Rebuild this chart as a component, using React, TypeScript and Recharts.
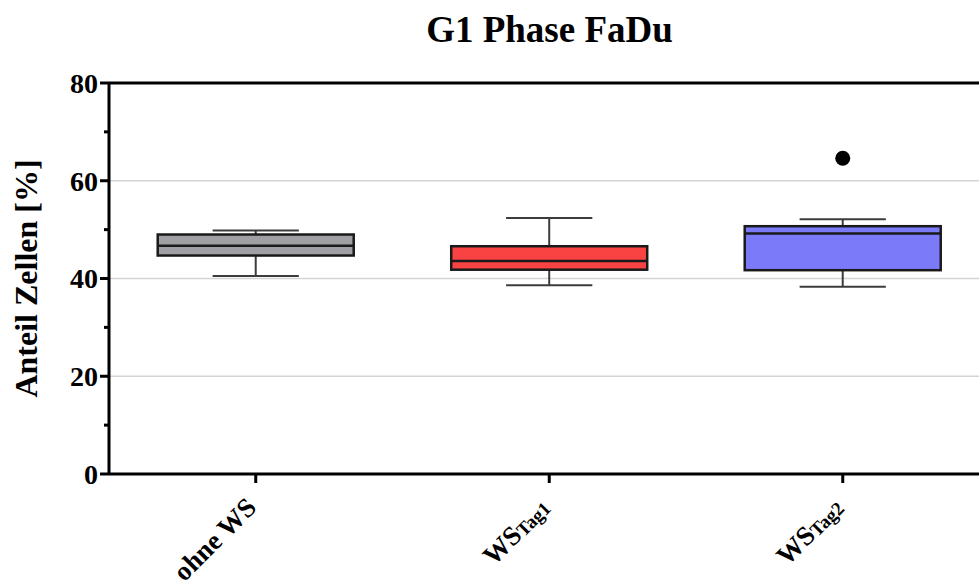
import React from 'react';
import { ComposedChart, Bar, Scatter, XAxis, YAxis, CartesianGrid, ReferenceLine } from 'recharts';

const categories = ['ohne WS', 'WSTag1', 'WSTag2'];
const labelMain = ['ohne WS', 'WS', 'WS'];
const labelSub = ['', 'Tag1', 'Tag2'];
const whiskerLow = [40.5, 38.6, 38.3];
const q1Values = [44.7, 41.8, 41.7];
const medianValues = [46.7, 43.6, 49.2];
const q3Values = [49.0, 46.6, 50.7];
const whiskerHigh = [49.8, 52.4, 52.1];
const outlierValues: (number | null)[] = [null, null, 64.6];
const yTicks = [0, 10, 20, 30, 40, 50, 60, 70, 80];
const gridValues = [20, 40, 60];
const boxColors = ['#a0a0a4', '#f94343', '#7b7bfa'];

const FONT = '"Liberation Serif", "Times New Roman", serif';

const data = categories.map((name, i) => ({
  name,
  range: [whiskerLow[i], whiskerHigh[i]],
  low: whiskerLow[i],
  q1: q1Values[i],
  median: medianValues[i],
  q3: q3Values[i],
  high: whiskerHigh[i],
  outlier: outlierValues[i],
  fill: boxColors[i],
}));

const BoxShape = (props: any) => {
  const { x, y, width, height, payload } = props;
  const { low, high, q1, median, q3, fill } = payload;
  const py = (v: number) => y + (height * (high - v)) / (high - low);
  const cx = x + width / 2;
  const cap = width * 0.44;
  const ws = '#3c3c3c';
  return (
    <g>
      <line x1={cx} x2={cx} y1={py(high)} y2={py(q3)} stroke={ws} strokeWidth={2} />
      <line x1={cx} x2={cx} y1={py(q1)} y2={py(low)} stroke={ws} strokeWidth={2} />
      <line x1={cx - cap / 2} x2={cx + cap / 2} y1={py(high)} y2={py(high)} stroke={ws} strokeWidth={2} />
      <line x1={cx - cap / 2} x2={cx + cap / 2} y1={py(low)} y2={py(low)} stroke={ws} strokeWidth={2} />
      <rect x={x} y={py(q3)} width={width} height={py(q1) - py(q3)} fill={fill} stroke="#1a1a1a" strokeWidth={2.5} />
      <line x1={x} x2={x + width} y1={py(median)} y2={py(median)} stroke="#1a1a1a" strokeWidth={2.5} />
    </g>
  );
};

const OutlierDot = (p: any) => {
  const v = p.payload ? p.payload.outlier : null;
  if (v === null || v === undefined || !Number.isFinite(p.cy)) return null;
  return <circle cx={p.cx} cy={p.cy} r={7.5} fill="#000" />;
};

const YTick = (props: any) => {
  const { x, y, payload } = props;
  const major = payload.value % 20 === 0;
  return (
    <g>
      <line x1={x - (major ? 9 : 5)} x2={x} y1={y} y2={y} stroke="#000" strokeWidth={3} />
      {major && (
        <text x={x - 11} y={y} dy="0.35em" textAnchor="end" fontFamily={FONT} fontWeight="bold" fontSize={28} fill="#000">
          {payload.value}
        </text>
      )}
    </g>
  );
};

const XTick = (props: any) => {
  const { x, y, payload } = props;
  const i = payload.index;
  const ax = x + 2;
  const ay = y + 26;
  return (
    <text x={ax} y={ay} transform={`rotate(-45, ${ax}, ${ay})`} textAnchor="end" fontFamily={FONT} fontWeight="bold" fontSize={27} fill="#000">
      {labelMain[i]}
      {labelSub[i] ? (
        <tspan fontSize={19} dy={1}>
          {labelSub[i]}
        </tspan>
      ) : null}
    </text>
  );
};

const YLabel = (props: any) => {
  const vb = props.viewBox || { x: 0, y: 83, width: 109, height: 391 };
  const lx = 37;
  const ly = vb.y + vb.height / 2;
  return (
    <text x={lx} y={ly} transform={`rotate(-90, ${lx}, ${ly})`} textAnchor="middle" fontFamily={FONT} fontWeight="bold" fontSize={32} fill="#000">
      Anteil Zellen [%]
    </text>
  );
};

export default function App() {
  return (
    <div style={{ position: 'fixed', left: 0, top: 0, width: 979, height: 583, overflow: 'hidden', background: '#fff' }}>
      <div
        style={{
          position: 'absolute',
          left: 109,
          width: 881,
          top: 11,
          textAlign: 'center',
          fontFamily: FONT,
          fontWeight: 'bold',
          fontSize: 37,
          lineHeight: 1,
          color: '#000',
        }}
      >
        G1 Phase FaDu
      </div>
      <ComposedChart
        width={1000}
        height={583}
        data={data}
        margin={{ top: 83, right: 10.5, bottom: 0, left: 0 }}
        barCategoryGap="16.6%"
      >
        <CartesianGrid vertical={false} horizontalValues={gridValues} stroke="#d4d4d4" strokeWidth={1.5} />
        <XAxis
          dataKey="name"
          type="category"
          allowDuplicatedCategory={false}
          height={109}
          tickSize={9}
          tickMargin={0}
          axisLine={{ stroke: '#000', strokeWidth: 3 }}
          tickLine={{ stroke: '#000', strokeWidth: 3 }}
          tick={<XTick />}
          interval={0}
        />
        <YAxis
          type="number"
          domain={[0, 80]}
          ticks={yTicks}
          interval={0}
          width={109}
          tickSize={0}
          tickMargin={0}
          axisLine={{ stroke: '#000', strokeWidth: 3 }}
          tickLine={false}
          tick={<YTick />}
          label={{ content: <YLabel /> }}
        />
        <ReferenceLine y={80} stroke="#000" strokeWidth={3} />
        <Bar dataKey="range" shape={<BoxShape />} isAnimationActive={false} />
        <Scatter dataKey="outlier" isAnimationActive={false} shape={<OutlierDot />} />
      </ComposedChart>
    </div>
  );
}
